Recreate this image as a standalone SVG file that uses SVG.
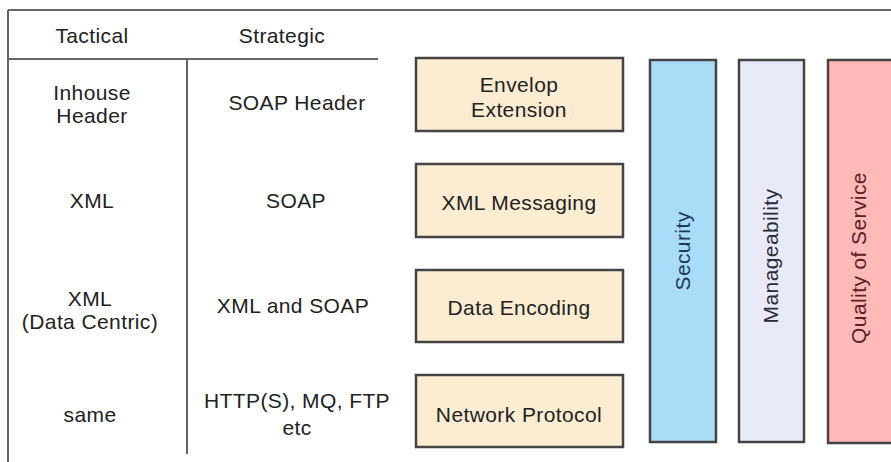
<svg xmlns="http://www.w3.org/2000/svg" width="891" height="462" viewBox="0 0 891 462">
<style>
.t{font-family:"Liberation Sans",Arial,sans-serif;font-size:21px;letter-spacing:0.4px;fill:#222;text-anchor:middle}
.ln{stroke:#666;stroke-width:2;fill:none}
.box{fill:#fcedd2;stroke:#444;stroke-width:2.5}
</style>
<rect width="891" height="462" fill="#fff"/>
<g id="table">
<line class="ln" x1="8" y1="10" x2="891" y2="10"/>
<line class="ln" x1="8" y1="10" x2="8" y2="462"/>
<line class="ln" x1="8" y1="59" x2="378" y2="59"/>
<line class="ln" x1="187" y1="59" x2="187" y2="454"/>
<text class="t" x="92" y="43">Tactical</text>
<text class="t" x="282" y="43">Strategic</text>
<text class="t" x="92" y="100">Inhouse</text>
<text class="t" x="92" y="123">Header</text>
<text class="t" x="297" y="110">SOAP Header</text>
<text class="t" x="92" y="208">XML</text>
<text class="t" x="296" y="208">SOAP</text>
<text class="t" x="90" y="306">XML</text>
<text class="t" x="90" y="329">(Data Centric)</text>
<text class="t" x="293" y="313">XML and SOAP</text>
<text class="t" x="90" y="422">same</text>
<text class="t" x="297" y="408">HTTP(S), MQ, FTP</text>
<text class="t" x="297" y="435">etc</text>
</g>
<g id="envelop">
<rect class="box" x="416" y="58" width="207" height="73"/>
<text class="t" x="519" y="92">Envelop</text>
<text class="t" x="519" y="117">Extension</text>
</g>
<g id="xmlmsg">
<rect class="box" x="416" y="164" width="207" height="73"/>
<text class="t" x="519" y="210">XML Messaging</text>
</g>
<g id="dataenc">
<rect class="box" x="416" y="270" width="207" height="72"/>
<text class="t" x="519" y="315">Data Encoding</text>
</g>
<g id="netproto">
<rect class="box" x="416" y="375" width="207" height="72"/>
<text class="t" x="519" y="422">Network Protocol</text>
</g>
<g id="security">
<rect x="650" y="60" width="66" height="382" fill="#a9dcf7" stroke="#444" stroke-width="2.5"/>
<text class="t" transform="translate(690,251) rotate(-90)" style="fill:#1d3a5c">Security</text>
</g>
<g id="manageability">
<rect x="739" y="60" width="65" height="382" fill="#e9eaf8" stroke="#444" stroke-width="2.5"/>
<text class="t" transform="translate(778,256) rotate(-90)" style="fill:#2a2a38">Manageability</text>
</g>
<g id="qos">
<rect x="828" y="60" width="66" height="383" fill="#ffb9b9" stroke="#444" stroke-width="2.5"/>
<text class="t" transform="translate(866,258) rotate(-90)" style="fill:#5a2222">Quality of Service</text>
</g>
<g id="connectors"></g>
</svg>
